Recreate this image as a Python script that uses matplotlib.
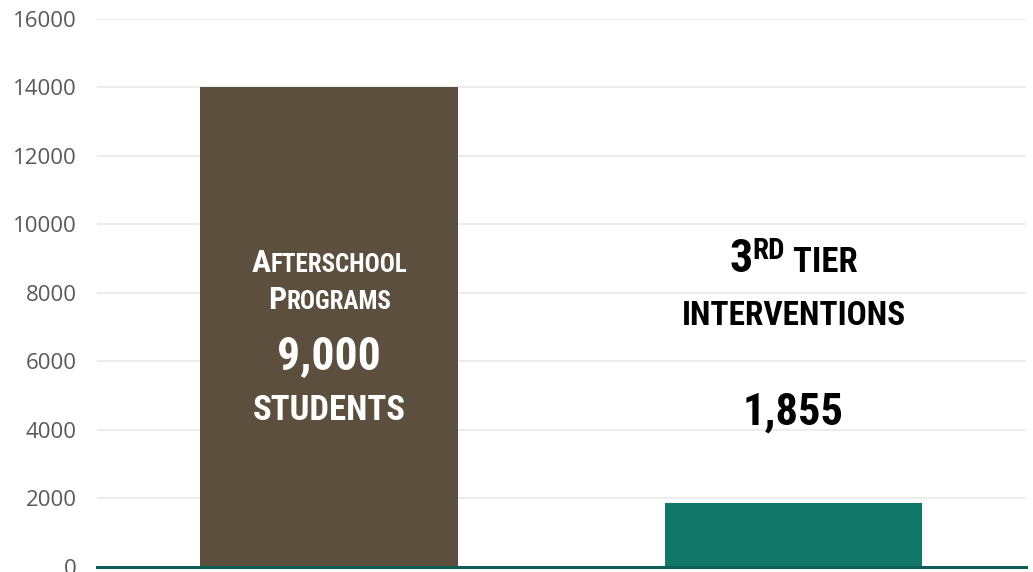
import matplotlib.pyplot as plt
from matplotlib import transforms
from matplotlib import font_manager

# data
categories = ["Afterschool Programs", "3rd Tier Interventions"]
values = [14000, 1855]
bar_colors = ["#5D4F3D", "#127669"]
yticks = [0, 2000, 4000, 6000, 8000, 10000, 12000, 14000, 16000]

names = {f.name for f in font_manager.fontManager.ttflist}
cond = [n for n in ["Liberation Sans Narrow", "Roboto Condensed", "DejaVu Sans"] if n in names]

fig = plt.figure(figsize=(10.33, 5.72), dpi=100)
ax = fig.add_axes([0.094, 0.009, 0.899, 0.958])

x = list(range(len(categories)))
ax.bar(x, values, width=0.555, color=bar_colors, zorder=2)
ax.set_xlim(-0.5, 1.5)
ax.set_ylim(0, 16000)
ax.set_yticks(yticks)
ax.set_yticklabels([str(v) for v in yticks], fontsize=16, color="#595959",
                   family=["Open Sans", "DejaVu Sans"])
ax.set_xticks([])
ax.tick_params(axis="y", length=0, pad=14.5)
ax.grid(axis="y", color="#EBEBEB", linewidth=1.3, zorder=0)
for s in ["top", "right", "left"]:
    ax.spines[s].set_visible(False)
ax.spines["bottom"].set_color("#0E5E58")
ax.spines["bottom"].set_linewidth(2.2)
ax.spines["bottom"].set_zorder(3)


def caps_line(xc, y, parts, color, weight="bold"):
    # parts: (text, fontsize, y offset in px)
    texts = [ax.text(xc, y, s, fontsize=fs, ha="left", va="baseline", color=color,
                     family=cond, fontweight=weight) for s, fs, dy in parts]
    fig.canvas.draw()
    r = fig.canvas.get_renderer()
    widths = [t.get_window_extent(r).width for t in texts]
    off = -sum(widths) / 2
    for t, w, (s, fs, dy) in zip(texts, widths, parts):
        t.set_transform(transforms.offset_copy(ax.transData, fig=fig, x=off, y=dy, units="dots"))
        off += w


white = "white"
caps_line(0, 8610, [("A", 23, 0), ("FTERSCHOOL", 18, 0)], white)
caps_line(0, 7520, [("P", 23, 0), ("ROGRAMS", 18, 0)], white)
caps_line(0, 5780, [("9,000", 33, 0)], white)
caps_line(0, 4300, [("STUDENTS", 25, 0)], white)

black = "black"
caps_line(1, 8620, [("3", 33, 0), ("RD", 21, 13), (" TIER", 25, 0)], black)
caps_line(1, 7060, [("INTERVENTIONS", 24, 0)], black)
caps_line(1, 4150, [("1,855", 32, 0)], black)

plt.savefig("out.png", dpi=100, facecolor="white")
plt.close(fig)
